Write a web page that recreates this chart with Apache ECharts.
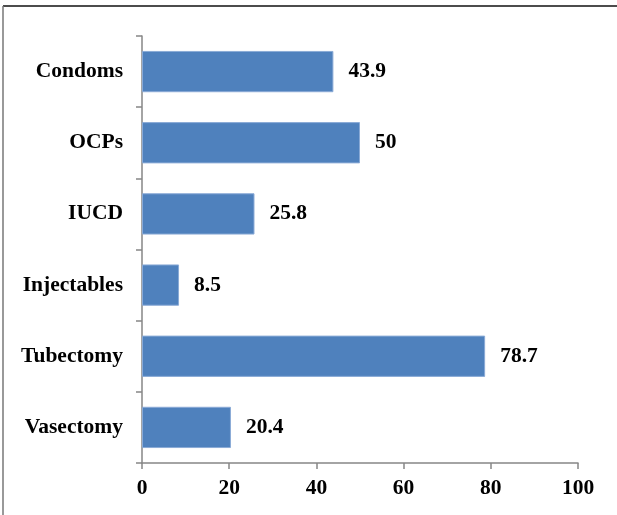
<!DOCTYPE html>
<html>
<head>
<meta charset="utf-8">
<script src="https://cdn.jsdelivr.net/npm/echarts@6/dist/echarts.min.js"></script>
<style>
  html, body { margin: 0; padding: 0; background: #fff; }
  #chart { width: 617px; height: 515px; }
</style>
</head>
<body>
<div id="chart"></div>
<script>
// Contraceptive methods, listed bottom to top
const methods = ['Vasectomy', 'Tubectomy', 'Injectables', 'IUCD', 'OCPs', 'Condoms'];
const percentages = [20.4, 78.7, 8.5, 25.8, 50, 43.9];
const xTicks = [0, 20, 40, 60, 80, 100];

const serif = '"Liberation Serif", "Times New Roman", serif';
const axisGray = '#868686';
const textSize = 21.5;

const chart = echarts.init(document.getElementById('chart'), null, { renderer: 'canvas' });

chart.setOption({
  animation: false,
  backgroundColor: '#ffffff',
  grid: { left: 142, right: 39, top: 36, bottom: 52, containLabel: false },
  xAxis: {
    type: 'value',
    min: xTicks[0],
    max: xTicks[xTicks.length - 1],
    interval: xTicks[1] - xTicks[0],
    axisLine: { show: true, lineStyle: { color: axisGray, width: 1.5 } },
    axisTick: { show: true, inside: false, length: 6, lineStyle: { color: axisGray, width: 1.5 } },
    splitLine: { show: false },
    axisLabel: {
      margin: 14,
      color: '#000',
      fontFamily: serif,
      fontWeight: 'bold',
      fontSize: textSize
    }
  },
  yAxis: {
    type: 'category',
    data: methods,
    axisLine: { show: true, lineStyle: { color: axisGray, width: 1.5 } },
    axisTick: { show: true, inside: false, length: 6, lineStyle: { color: axisGray, width: 1.5 } },
    axisLabel: {
      margin: 19,
      color: '#000',
      fontFamily: serif,
      fontWeight: 'bold',
      fontSize: textSize
    }
  },
  series: [{
    type: 'bar',
    data: percentages,
    barCategoryGap: '42%',
    itemStyle: { color: '#4f81bd', borderColor: '#8aaad6', borderWidth: 1 },
    label: {
      show: true,
      position: 'right',
      distance: 15,
      color: '#000',
      fontFamily: serif,
      fontWeight: 'bold',
      fontSize: textSize
    }
  }],
  graphic: [
    // frame: top and left edges
    { type: 'line', shape: { x1: 3, y1: 6, x2: 617, y2: 6 }, style: { stroke: '#111', lineWidth: 1.5 } },
    { type: 'line', shape: { x1: 3, y1: 6, x2: 3, y2: 515 }, style: { stroke: '#777', lineWidth: 1.5 } }
  ]
});
</script>
</body>
</html>
